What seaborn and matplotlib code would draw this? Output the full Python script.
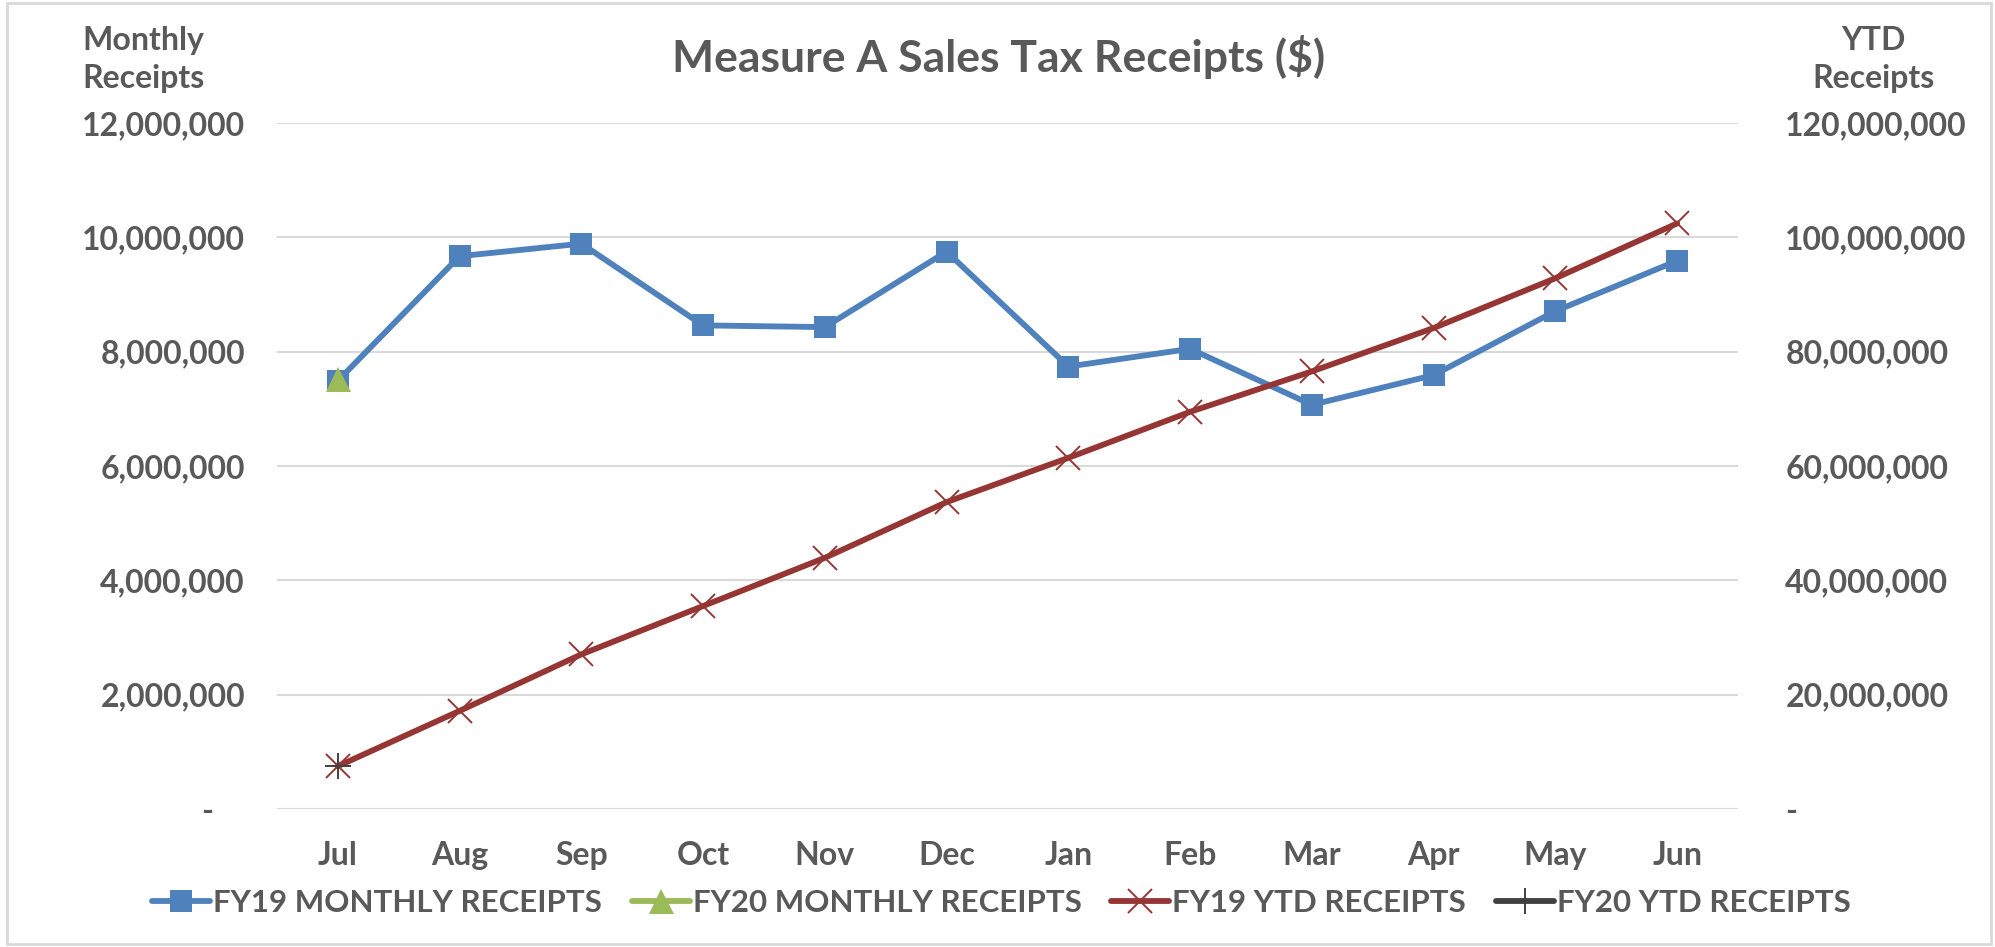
import numpy as np
import pandas as pd
import seaborn as sns
import matplotlib.pyplot as plt
from matplotlib.ticker import FuncFormatter
from matplotlib.patches import Rectangle

# Values
months = ['Jul', 'Aug', 'Sep', 'Oct', 'Nov', 'Dec', 'Jan', 'Feb', 'Mar', 'Apr', 'May', 'Jun']
fy19_monthly = [7490000, 9670000, 9890000, 8460000, 8430000, 9750000,
                7740000, 8050000, 7070000, 7590000, 8710000, 9590000]
fy19_ytd = [7490000, 17160000, 27050000, 35510000, 43940000, 53690000,
            61430000, 69480000, 76550000, 84140000, 92850000, 102440000]
fy20_months = ['Jul']
fy20_monthly = [7520000]
fy20_ytd = [7520000]

left_ticks = [0, 2e6, 4e6, 6e6, 8e6, 10e6, 12e6]
right_ticks = [0, 20e6, 40e6, 60e6, 80e6, 100e6, 120e6]

sns.set_theme(style='white')
plt.rcParams['font.family'] = ['Lato', 'DejaVu Sans']
plt.rcParams['font.weight'] = 'bold'
txt = '#595959'
fs = 23

blue, green, red, dark = '#4F81BD', '#9BBB59', '#963634', '#404040'

df19 = pd.DataFrame({'month': months, 'monthly': fy19_monthly, 'ytd': fy19_ytd})
df20 = pd.DataFrame({'month': fy20_months, 'monthly': fy20_monthly, 'ytd': fy20_ytd})

fig = plt.figure(figsize=(19.95, 9.47), dpi=100)
ax = fig.add_axes([0.1388, 0.1457, 0.8712 - 0.1388, 0.8701 - 0.1457])
ax2 = ax.twinx()

sns.lineplot(data=df19, x='month', y='monthly', ax=ax, sort=False, color=blue,
             lw=4.2, marker='s', markersize=16, markeredgewidth=0,
             label='FY19 MONTHLY RECEIPTS', legend=False)
sns.lineplot(data=df20, x='month', y='monthly', ax=ax, sort=False, color=green,
             lw=4.2, marker='^', markersize=18, markeredgewidth=0,
             label='FY20 MONTHLY RECEIPTS', legend=False)
sns.lineplot(data=df19, x='month', y='ytd', ax=ax2, sort=False, color=red,
             lw=4.2, marker='x', markersize=17, markeredgewidth=1.4, markeredgecolor=red,
             label='FY19 YTD RECEIPTS', legend=False)
sns.lineplot(data=df20, x='month', y='ytd', ax=ax2, sort=False, color=dark,
             lw=4.2, marker='+', markersize=19, markeredgewidth=1.4, markeredgecolor=dark,
             label='FY20 YTD RECEIPTS', legend=False)

ax.set_xlim(-0.5, len(months) - 0.5)
ax.set_ylim(0, 12e6)
ax2.set_ylim(0, 120e6)
ax.set_yticks(left_ticks)
ax2.set_yticks(right_ticks)
ax.yaxis.set_major_formatter(FuncFormatter(lambda v, p: '-    ' if v == 0 else f'{v:,.0f}'))
ax2.yaxis.set_major_formatter(FuncFormatter(lambda v, p: '-' if v == 0 else f'{v:,.0f}'))

ax.grid(axis='y', color='#D9D9D9', lw=1.5)
ax.grid(axis='x', visible=False)
ax2.grid(False)
ax.set_axisbelow(True)
for a in (ax, ax2):
    for s in a.spines.values():
        s.set_visible(False)
    a.set_xlabel('')
    a.set_ylabel('')
ax.tick_params(axis='y', length=0, pad=23, labelsize=fs, labelcolor=txt)
ax.tick_params(axis='x', length=0, pad=23, labelsize=fs, labelcolor=txt)
ax2.tick_params(axis='y', length=0, pad=34, labelsize=fs, labelcolor=txt)

fig.text(0.5003, 0.94, 'Measure A Sales Tax Receipts ($)', ha='center', va='center',
         fontsize=32, color=txt, fontweight='bold')
fig.text(0.0717, 0.937, 'Monthly\nReceipts', ha='center', va='center', fontsize=fs,
         color=txt, fontweight='bold', linespacing=1.4)
fig.text(0.939, 0.937, 'YTD\nReceipts', ha='center', va='center', fontsize=fs,
         color=txt, fontweight='bold', linespacing=1.4)

h1, l1 = ax.get_legend_handles_labels()
h2, l2 = ax2.get_legend_handles_labels()
leg = fig.legend(h1 + h2, l1 + l2, loc='center', bbox_to_anchor=(0.502, 0.0465), ncol=4,
                 frameon=False, fontsize=22.5, handlelength=1.85, handletextpad=0.1,
                 columnspacing=0.95)
for t in leg.get_texts():
    t.set_color(txt)

fig.patches.append(Rectangle((0.0035, 0.003), 0.9945, 0.994, transform=fig.transFigure,
                             fill=False, edgecolor='#D9D9D9', lw=2))

fig.savefig('out.png', dpi=100)
